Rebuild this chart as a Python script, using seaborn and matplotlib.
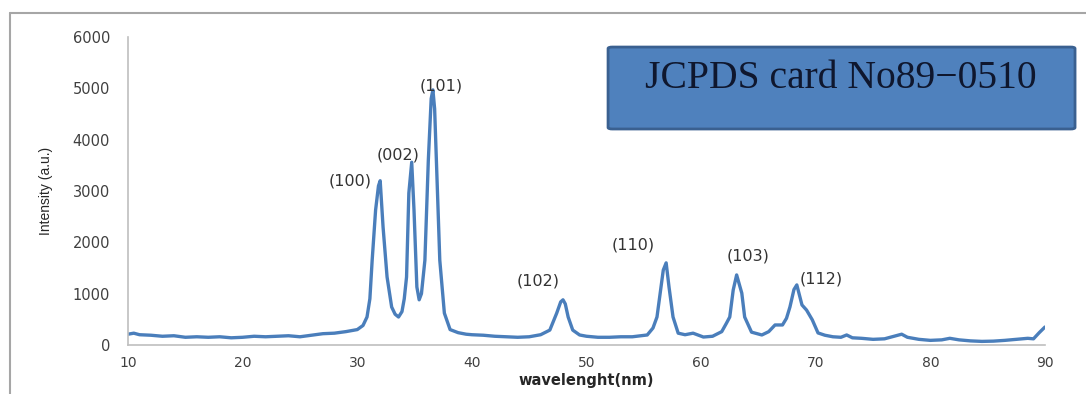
import numpy as np
import pandas as pd
import matplotlib.pyplot as plt
import seaborn as sns
from matplotlib.patches import FancyBboxPatch
from matplotlib.lines import Line2D

# Datos (XRD)
wavelength = [10, 10.5, 11, 12, 13, 14, 15, 16, 17, 18, 19, 20, 21, 22, 23, 24, 25, 26, 27, 28, 29, 30,
              30.5, 30.85, 31.1, 31.3, 31.6, 31.85, 32.0, 32.25, 32.6, 33.0, 33.3, 33.6, 33.9, 34.1, 34.3,
              34.5, 34.75, 34.95, 35.2, 35.4, 35.6, 35.9, 36.2, 36.45, 36.6, 36.75, 36.9, 37.2, 37.6, 38.1,
              38.8, 39.5, 40, 41, 42, 43, 44, 45, 46, 46.8, 47.4, 47.75, 47.95, 48.15, 48.4, 48.8, 49.4,
              50, 51, 52, 53, 54, 55.3, 55.8, 56.15, 56.5, 56.7, 56.95, 57.2, 57.55, 58.0, 58.6, 59.3,
              60.2, 61, 61.8, 62.2, 62.5, 62.8, 63.1, 63.55, 63.8, 64.4, 65.3, 65.9, 66.45, 67.1, 67.45,
              67.75, 68.1, 68.35, 68.55, 68.8, 69.2, 69.7, 70.2, 70.8, 71.5, 72.2, 72.7, 73.2, 74, 75, 76,
              77, 77.5, 78, 79, 80, 81, 81.7, 82.5, 83.5, 84.5, 85.5, 86.5, 87.5, 88.5, 89, 89.5, 90]
intensity = [210, 230, 200, 190, 170, 180, 150, 160, 150, 160, 140, 150, 170, 160, 170, 180, 160, 190, 220, 230, 260, 300,
             380, 545, 900, 1650, 2630, 3100, 3200, 2300, 1325, 740, 600, 545, 650, 900, 1325,
             2960, 3560, 2630, 1130, 880, 1000, 1650, 3600, 4800, 4970, 4600, 3600, 1650, 620, 300,
             240, 210, 200, 190, 170, 160, 150, 160, 200, 290, 620, 840, 880, 800, 545, 290, 195,
             170, 150, 150, 160, 160, 195, 330, 545, 1130, 1460, 1600, 1130, 545, 230, 200, 230,
             155, 170, 260, 420, 545, 1070, 1365, 1010, 545, 250, 195, 260, 390, 390, 520,
             740, 1080, 1170, 1000, 780, 680, 490, 235, 190, 160, 150, 195, 140, 130, 110, 120,
             180, 210, 150, 110, 90, 100, 130, 100, 80, 70, 75, 90, 110, 130, 120, 240, 350]

peak_labels = ["(100)", "(002)", "(101)", "(102)", "(110)", "(103)", "(112)"]
label_x = [29.4, 33.6, 37.3, 45.8, 54.1, 64.1, 70.5]
label_y = [3200, 3700, 5050, 1250, 1950, 1730, 1280]

df = pd.DataFrame({"wavelength": wavelength, "intensity": intensity})

sns.set_style("white")
fig = plt.figure(figsize=(10.86, 3.94), dpi=100)
ax = fig.add_axes([0.1179, 0.1244, 0.8443, 0.7817])

sns.lineplot(data=df, x="wavelength", y="intensity", color="#4A7EBB", linewidth=2.4, ax=ax)
ax.lines[0].set_solid_joinstyle("round")

ax.set_xlim(10, 90)
ax.set_ylim(0, 6000)
ax.set_xticks(range(10, 91, 10))
ax.set_yticks(range(0, 6001, 1000))
for s in ["top", "right"]:
    ax.spines[s].set_visible(False)
for s in ["left", "bottom"]:
    ax.spines[s].set_color("#BFBFBF")
    ax.spines[s].set_linewidth(1.2)
ax.tick_params(axis="both", direction="out", length=5, width=1, color="#BFBFBF", labelcolor="#404040")
ax.tick_params(axis="y", labelsize=10.5, pad=8)
ax.tick_params(axis="x", labelsize=10, pad=3)

ax.set_xlabel("wavelenght(nm)", fontsize=10.5, fontweight="bold", color="#262626", labelpad=2)
ax.set_ylabel("Intensity (a.u.)", fontsize=10, color="#262626",
              family=["Liberation Sans Narrow", "Liberation Sans"], labelpad=14)

for lab, lx, ly in zip(peak_labels, label_x, label_y):
    ax.text(lx, ly, lab, ha="center", va="center", fontsize=11.5, color="#333333")

# Cuadro del JCPDS
box = FancyBboxPatch((0.5599, 0.6726), 0.430, 0.208, boxstyle="round,pad=0,rounding_size=0.004",
                     transform=fig.transFigure, facecolor="#4F81BD", edgecolor="#3A6090", linewidth=2)
fig.patches.append(box)
fig.text(0.7744, 0.802, "JCPDS card No89\u22120510", ha="center", va="center",
         fontsize=28.5, family="Liberation Serif", color="#0F172E")

# Marco de la figura
fig.add_artist(Line2D([0.0092, 1.0], [0.967, 0.967], transform=fig.transFigure, color="#A6A6A6", linewidth=1.5))
fig.add_artist(Line2D([0.0092, 0.0092], [0.0, 0.967], transform=fig.transFigure, color="#A6A6A6", linewidth=1.5))

plt.savefig("out.png", dpi=100)
